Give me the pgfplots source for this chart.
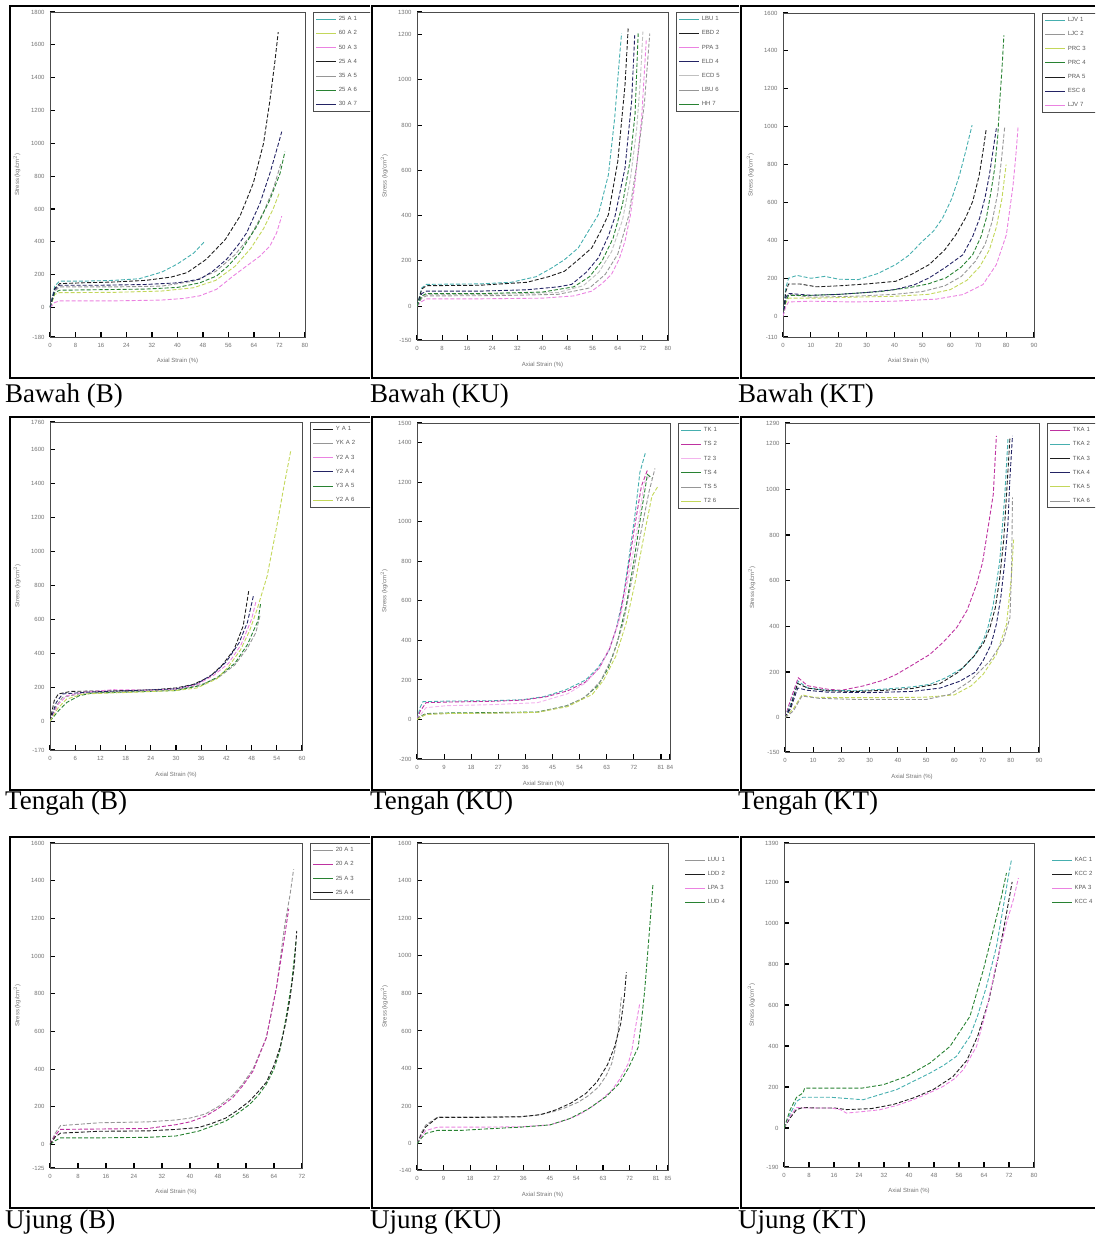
\documentclass[border=0pt]{standalone}
\usepackage{fontspec}
\setmainfont{Liberation Serif}
\setsansfont{Liberation Sans}
\usepackage{pgfplots}
\pgfplotsset{compat=1.18}

\definecolor{cBlk}{RGB}{30,30,30}
\definecolor{cMag}{RGB}{190,50,160}
\definecolor{cPink}{RGB}{235,130,225}
\definecolor{cGrn}{RGB}{40,130,50}
\definecolor{cTeal}{RGB}{70,175,175}
\definecolor{cNavy}{RGB}{35,35,100}
\definecolor{cYel}{RGB}{195,215,90}
\definecolor{cGry}{RGB}{150,150,150}

\newcommand{\tinyf}{\sffamily\fontsize{6}{6}\selectfont}

\pgfplotsset{
  pnl/.style={
    scale only axis, anchor=north west,
    axis line style={draw=black!70, line width=0.9pt},
    tick align=inside, xtick pos=bottom, ytick pos=left,
    major tick length=5pt,
    tick style={black, line width=1.1pt},
    tick label style={font=\tinyf, text=black!55},
    /pgf/number format/assume math mode=true,
    /pgf/number format/1000 sep={},
    scaled ticks=false,
    xticklabel style={yshift=-3pt},
    yticklabel style={xshift=-2pt},
    every axis x label/.style={at={(axis description cs:0.5,-0.075)}, anchor=center, font=\tinyf, text=black!55},
    every axis y label/.style={at={(axis description cs:-0.13,0.5)}, rotate=90, anchor=center, font=\tinyf, text=black!55},
    xlabel={Axial Strain (\%)}, ylabel={Stress (kg/cm$^2$)},
    legend cell align=left,
    legend style={at={(1.033,1)}, anchor=north west, draw=black!70, line width=1pt,
      font=\tinyf, text=black!65, inner sep=2pt, row sep=4.5pt,
      nodes={text width=36pt}},
    legend image code/.code={\draw[#1, solid, line width=1pt] (0pt,0pt) -- (20pt,0pt);},
    every axis plot/.append style={line width=0.9pt, dash pattern=on 4pt off 2pt},
  }
}

\begin{document}
\begin{tikzpicture}
\path[use as bounding box] (0pt,0pt) rectangle (1095pt,-1247pt);

% ---------- frames ----------
\foreach \t/\b in {6/378, 417/790, 837/1208}{
  \foreach \l/\r in {10/370, 372/739, 741/1095}{
    \draw[line width=2pt] (\r pt,-\t pt) -- (\l pt,-\t pt) -- (\l pt,-\b pt) -- (\r pt,-\b pt);
  }
}

% ---------- captions ----------
\begin{scope}[every node/.style={anchor=base west, inner sep=0pt, font=\fontsize{27}{27}\selectfont}]
\node at (5pt,-402pt) {Bawah (B)};
\node at (370pt,-402pt) {Bawah (KU)};
\node at (738pt,-402pt) {Bawah (KT)};
\node at (5pt,-809pt) {Tengah (B)};
\node at (370pt,-809pt) {Tengah (KU)};
\node at (738pt,-809pt) {Tengah (KT)};
\node at (5pt,-1228pt) {Ujung (B)};
\node at (370pt,-1228pt) {Ujung (KU)};
\node at (738pt,-1228pt) {Ujung (KT)};
\end{scope}

% ================= Bawah (B) =================
\begin{scope}
\clip (11pt,-7pt) rectangle (370pt,-377pt);
\begin{axis}[pnl, at={(50pt,-12pt)}, width=255pt, height=325pt,
  xmin=0, xmax=80, ymin=-180, ymax=1800,
  xtick={0,8,16,24,32,40,48,56,64,72,80},
  ytick={-180,0,200,400,600,800,1000,1200,1400,1600,1800}]
\addplot[cTeal] coordinates {(0,0)(1.5,130)(3,160)(10,160)(20,165)(28,175)(35,215)(40,265)(45,330)(48.6,404)};
\addlegendentry{25 A 1}
\addplot[cYel] coordinates {(0,0)(1.5,80)(3,90)(20,92)(35,100)(45,120)(52,165)(58,250)(63,360)(67,480)(70,600)(72,700)};
\addlegendentry{60 A 2}
\addplot[cPink] coordinates {(0,0)(1.5,30)(3,40)(20,40)(35,45)(42,55)(47,71)(52.3,111)(57.5,192)(61.7,253)(65.9,313)(69,374)(71.1,455)(72.7,556)};
\addlegendentry{50 A 3}
\addplot[cBlk] coordinates {(0,0)(1.5,115)(3,145)(10,150)(20,155)(30,165)(38,185)(43,212)(49,293)(55,414)(59.6,556)(63.8,758)(67,1000)(69,1262)(70.6,1505)(71.6,1677)};
\addlegendentry{25 A 4}
\addplot[cGry] coordinates {(0,0)(1.5,100)(3,125)(20,125)(35,130)(45,160)(52,220)(58,320)(63,440)(67,580)(70,720)(72.5,880)};
\addlegendentry{35 A 5}
\addplot[cGrn] coordinates {(0,0)(1.5,90)(3,105)(15,108)(30,112)(40,122)(47,150)(52.3,192)(56,255)(59.6,333)(64.9,495)(69,657)(72.2,818)(73.7,949)};
\addlegendentry{25 A 6}
\addplot[cNavy] coordinates {(0,0)(1.5,110)(3,135)(15,135)(30,140)(40,150)(47,172)(51,220)(55.4,293)(59,380)(61.7,455)(65.9,636)(69,818)(71.7,1000)(72.7,1071)};
\addlegendentry{30 A 7}
\end{axis}
\end{scope}

% ================= Bawah (KU) =================
\begin{scope}
\clip (373pt,-7pt) rectangle (739pt,-377pt);
\begin{axis}[pnl, at={(417pt,-12pt)}, width=251pt, height=328pt,
  xmin=0, xmax=80, ymin=-150, ymax=1300,
  xtick={0,8,16,24,32,40,48,56,64,72,80},
  ytick={-150,0,200,400,600,800,1000,1200,1300}]
\addplot[cTeal] coordinates {(0,0)(1.5,80)(3,96)(20,98)(30,105)(38,130)(43,169)(47,205)(51.4,257)(55,340)(57.8,404)(61,580)(63,830)(64.7,1125)(65.2,1205)};
\addlegendentry{LBU 1}
\addplot[cBlk] coordinates {(0,0)(1.5,75)(3,90)(20,92)(35,105)(42,130)(47,154)(51,200)(55.7,257)(58.5,330)(61,404)(64,640)(66.3,977)(67.3,1227)};
\addlegendentry{EBD 2}
\addplot[cPink] coordinates {(0,0)(1.5,20)(3,32)(20,32)(40,35)(50,45)(55.7,66)(59,100)(62,140)(64.5,210)(66.3,287)(68,400)(69.4,537)(71.6,830)(73.1,1183)};
\addlegendentry{PPA 3}
\addplot[cNavy] coordinates {(0,0)(1.5,55)(3,66)(20,66)(35,72)(45,85)(49.3,96)(54,150)(57.8,213)(61,310)(63,390)(66.3,610)(68.4,904)(69.4,1198)};
\addlegendentry{ELD 4}
\addplot[cGry!60] coordinates {(0,0)(1.5,40)(3,51)(25,52)(45,60)(53,90)(58,150)(62,240)(65.5,380)(68,560)(70,780)(71.2,1000)(72,1213)};
\addlegendentry{ECD 5}
\addplot[cGry] coordinates {(0,0)(1.5,35)(3,45)(25,46)(45,52)(55,80)(60,140)(64,230)(67.5,400)(70,620)(72.5,900)(74.2,1205)};
\addlegendentry{LBU 6}
\addplot[cGrn] coordinates {(0,0)(1.5,45)(3,55)(20,55)(40,62)(50,85)(55,130)(59,200)(62.5,300)(65.5,450)(68,650)(69.5,850)(70.5,1205)};
\addlegendentry{HH 7}
\end{axis}
\end{scope}

% ================= Bawah (KT) =================
\begin{scope}
\clip (742pt,-7pt) rectangle (1095pt,-377pt);
\begin{axis}[pnl, at={(783pt,-13pt)}, width=251pt, height=324pt,
  xmin=0, xmax=90, ymin=-110, ymax=1600,
  xtick={0,10,20,30,40,50,60,70,80,90},
  ytick={-110,0,200,400,600,800,1000,1200,1400,1600}]
\addplot[cTeal] coordinates {(0,0)(1,150)(2,200)(5,215)(10,200)(15,210)(20,195)(27,193)(34,225)(40.4,272)(45,320)(50,395)(54,450)(57.2,517)(60.5,620)(63.3,745)(65.5,870)(67.8,1008)};
\addlegendentry{LJV 1}
\addplot[cGry] coordinates {(0,0)(1,90)(2,115)(10,100)(25,105)(40,115)(50,130)(58,160)(64,210)(69,290)(72.5,380)(75,500)(77,650)(78.5,850)(79.5,1000)};
\addlegendentry{LJC 2}
\addplot[cYel] coordinates {(0,0)(1,70)(2,95)(12,95)(25,100)(40,105)(52,115)(60,140)(66,190)(70.5,260)(74,350)(76.5,470)(78.5,620)(80,800)};
\addlegendentry{PRC 3}
\addplot[cGrn] coordinates {(0,0)(1,80)(2,110)(10,110)(20,115)(35,130)(45,150)(52,170)(58.4,202)(64,260)(68,324)(71,420)(72.9,517)(74.5,650)(75.9,780)(77,950)(77.7,1131)(78.5,1300)(79.2,1482)};
\addlegendentry{PRC 4}
\addplot[cBlk] coordinates {(0,0)(1,130)(2,170)(6,170)(12,155)(20,160)(30,170)(40.4,184)(46,220)(52.4,272)(58,350)(62,430)(65.5,520)(68,605)(70.3,740)(71.7,868)(72.9,991)};
\addlegendentry{PRA 5}
\addplot[cNavy] coordinates {(0,0)(1,100)(2,120)(10,110)(20,115)(30,125)(40,140)(47,165)(52.4,202)(58,255)(64.5,324)(68,420)(70.5,517)(72.5,630)(74,745)(76.5,991)};
\addlegendentry{ESC 6}
\addplot[cPink] coordinates {(0,0)(1,50)(2,75)(10,79)(25,75)(40,79)(55,90)(64.5,114)(71.7,167)(76.5,272)(80.1,430)(82.5,693)(83.5,850)(84.3,1000)};
\addlegendentry{LJV 7}
\end{axis}
\end{scope}

% ================= Tengah (B) =================
\begin{scope}
\clip (11pt,-418pt) rectangle (370pt,-789pt);
\begin{axis}[pnl, at={(50pt,-422pt)}, width=252pt, height=328pt,
  xmin=0, xmax=60, ymin=-170, ymax=1760,
  xtick={0,6,12,18,24,30,36,42,48,54,60},
  ytick={-170,0,200,400,600,800,1000,1200,1400,1600,1760}]
\addplot[cBlk] coordinates {(0,0)(1,120)(2,160)(5,175)(15,178)(25,185)(30,195)(34,215)(38,260)(41,330)(43.8,420)(46,560)(47.3,764)};
\addlegendentry{Y A 1}
\addplot[cGry] coordinates {(0,0)(1.5,90)(3,140)(8,165)(20,175)(30,185)(36,215)(40,255)(44,330)(47,430)(49,520)(50,620)};
\addlegendentry{YK A 2}
\addplot[cPink] coordinates {(0,0)(2,100)(4,150)(8,170)(15,185)(25,182)(30,190)(35,215)(39,270)(42.5,340)(45.5,450)(48,600)(49,700)};
\addlegendentry{Y2 A 3}
\addplot[cNavy] coordinates {(0,0)(1.5,110)(3,160)(10,172)(20,180)(30,190)(35,220)(39,280)(42,350)(45,460)(47,580)(48.5,745)};
\addlegendentry{Y2 A 4}
\addplot[cGrn] coordinates {(0,0)(2,60)(4,110)(7,150)(10,165)(20,172)(30,180)(36,210)(40,260)(44,340)(47,450)(49.5,590)(50.2,700)};
\addlegendentry{Y3 A 5}
\addplot[cYel] coordinates {(0,0)(2,80)(4,130)(8,160)(20,170)(30,180)(35,195)(39.8,250)(42.5,320)(45.4,421)(47.5,530)(49.3,657)(51.7,853)(54,1147)(55.7,1382)(57.3,1588)};
\addlegendentry{Y2 A 6}
\end{axis}
\end{scope}

% ================= Tengah (KU) =================
\begin{scope}
\clip (373pt,-418pt) rectangle (739pt,-789pt);
\begin{axis}[pnl, at={(417pt,-423pt)}, width=253pt, height=336pt,
  xmin=0, xmax=84, ymin=-200, ymax=1500,
  xtick={0,9,18,27,36,45,54,63,72,81,84},
  ytick={-200,0,200,400,600,800,1000,1200,1400,1500}]
\addplot[cTeal] coordinates {(0,0)(1,60)(2,90)(10,93)(25,95)(35,100)(42,115)(49.4,150)(56,200)(60,260)(63.5,340)(66,450)(68.5,620)(70.5,830)(72.5,1050)(74,1250)(75.8,1348)};
\addlegendentry{TK 1}
\addplot[cMag] coordinates {(0,0)(1,40)(3,85)(10,88)(25,92)(35,98)(43,115)(50,145)(56,190)(60.5,260)(64,360)(67,500)(69.5,700)(72,950)(74.5,1180)(76.5,1262)};
\addlegendentry{TS 2}
\addplot[cPink!60] coordinates {(0,0)(1,20)(3,60)(10,70)(25,75)(40,85)(50,130)(56,185)(61,270)(65,400)(68,550)(71,780)(73.5,1000)(75.5,1200)(77.5,1237)};
\addlegendentry{T2 3}
\addplot[cGrn] coordinates {(0,0)(1,15)(3,30)(10,33)(25,35)(40,38)(49.4,68)(55,105)(60,170)(63.5,260)(66.5,390)(69.5,580)(72,800)(74.5,1050)(76.5,1240)(78,1220)};
\addlegendentry{TS 4}
\addplot[cGry] coordinates {(0,0)(1,10)(3,28)(10,30)(25,32)(40,36)(50,70)(56,115)(61,195)(65,320)(68.5,490)(71.5,720)(74.5,960)(77,1150)(79,1270)};
\addlegendentry{TS 5}
\addplot[cYel] coordinates {(0,0)(1,10)(3,25)(10,30)(25,32)(40,36)(50,65)(58.2,127)(62,200)(66,320)(69.5,490)(72.5,700)(75.5,940)(78,1130)(80,1180)};
\addlegendentry{T2 6}
\end{axis}
\end{scope}

% ================= Tengah (KT) =================
\begin{scope}
\clip (742pt,-418pt) rectangle (1095pt,-789pt);
\begin{axis}[pnl, at={(785pt,-423pt)}, width=254pt, height=329pt,
  xmin=0, xmax=90, ymin=-150, ymax=1290,
  xtick={0,10,20,30,40,50,60,70,80,90},
  ytick={-150,0,200,400,600,800,1000,1200,1290}]
\addplot[cMag] coordinates {(0,0)(2,80)(4.7,175)(8,140)(15,125)(20,120)(28,140)(35,165)(39.5,190)(45,230)(51.3,277)(56,330)(60.8,394)(64.5,470)(67.9,584)(70,680)(71.4,788)(73.8,978)(74.9,1234)};
\addlegendentry{TKA 1}
\addplot[cTeal] coordinates {(0,0)(2,60)(4.7,160)(8,130)(15,120)(25,118)(35,125)(45,135)(51.3,146)(57,175)(63.1,219)(67,270)(70.2,336)(72,400)(73.8,496)(76.1,686)(77.9,978)(79,1219)};
\addlegendentry{TKA 2}
\addplot[cBlk] coordinates {(0,0)(2,50)(4.5,150)(8,130)(15,118)(25,115)(35,120)(45,128)(55,150)(61.5,200)(67,270)(70.5,330)(72.6,394)(74.5,480)(76.1,613)(77.5,780)(78.5,978)(79.7,1226)};
\addlegendentry{TKA 3}
\addplot[cNavy] coordinates {(0,0)(2,40)(4.5,130)(8,120)(15,112)(30,110)(45,115)(55,130)(62,160)(67.5,200)(70.2,250)(73,320)(74.9,409)(76.5,530)(77.9,686)(79,850)(79.7,1051)(80.6,1234)};
\addlegendentry{TKA 4}
\addplot[cYel] coordinates {(0,0)(3,40)(6,100)(10,90)(20,88)(35,88)(50,90)(60,100)(66,140)(70.2,190)(74.9,277)(78.5,409)(80.2,613)(81,780)};
\addlegendentry{TKA 5}
\addplot[cGry] coordinates {(0,0)(3,30)(6,95)(12,85)(25,80)(36,80)(50,80)(58.4,102)(65.5,160)(72.6,248)(77.3,336)(79.7,438)(80.3,650)(80.6,964)};
\addlegendentry{TKA 6}
\end{axis}
\end{scope}

% ================= Ujung (B) =================
\begin{scope}
\clip (11pt,-838pt) rectangle (370pt,-1207pt);
\begin{axis}[pnl, at={(50pt,-843pt)}, width=252pt, height=325pt,
  xmin=0, xmax=72, ymin=-125, ymax=1600,
  xtick={0,8,16,24,32,40,48,56,64,72},
  ytick={-125,0,200,400,600,800,1000,1200,1400,1600}]
\addplot[cGry] coordinates {(0,0)(1.5,60)(3,100)(14,115)(28,120)(36,130)(40,140)(44.4,162)(48,200)(52.2,260)(55,320)(58,400)(61.8,566)(64.7,832)(67.1,1168)(68.6,1327)(69.6,1460)};
\addlegendentry{20 A 1}
\addplot[cMag] coordinates {(0,0)(1.5,50)(3,80)(14,82)(28,85)(36,105)(40,120)(44.4,150)(48,190)(52.2,248)(55,310)(58,389)(61.8,566)(64.7,832)(67,1100)(68.2,1250)};
\addlegendentry{20 A 2}
\addplot[cGrn] coordinates {(0,0)(1.5,20)(3,35)(14,35)(28,38)(36,45)(42.5,71)(46,95)(50.2,124)(54,170)(57,212)(59.5,260)(61.8,319)(64,400)(65.7,500)(67.5,680)(69,850)(70.3,1080)};
\addlegendentry{25 A 3}
\addplot[cBlk] coordinates {(0,0)(1.5,40)(3,60)(14,70)(28,72)(36,80)(42.5,90)(46,110)(50.2,140)(53.5,180)(57,230)(59.5,280)(61.8,330)(64,420)(65.7,513)(67.3,640)(68.6,779)(69.8,950)(70.5,1133)};
\addlegendentry{25 A 4}
\end{axis}
\end{scope}

% ================= Ujung (KU) =================
\begin{scope}
\clip (373pt,-838pt) rectangle (739pt,-1207pt);
\begin{axis}[pnl, at={(417pt,-843pt)}, width=251pt, height=327pt,
  xmin=0, xmax=85, ymin=-140, ymax=1600,
  xtick={0,9,18,27,36,45,54,63,72,81,85},
  ytick={-140,0,200,400,600,800,1000,1200,1400,1600},
  legend style={draw=none, at={(1.056,0.97)}}]
\addplot[cGry] coordinates {(0,0)(1.5,60)(3,100)(7,142)(20,142)(35,145)(40,150)(45.6,168)(50,190)(54.6,221)(58,255)(61.4,301)(64,360)(65.9,425)(67.2,510)(68.1,602)(69.2,779)};
\addlegendentry{LUU 1}
\addplot[cBlk] coordinates {(0,0)(1.5,50)(3,90)(7,140)(20,140)(35,143)(42,155)(47,180)(52,215)(57,265)(61,330)(64.5,420)(67,520)(69,640)(70.2,780)(70.9,912)};
\addlegendentry{LDD 2}
\addplot[cPink] coordinates {(0,0)(1.5,40)(3,70)(7,88)(20,88)(35,90)(45,100)(50.1,124)(55,155)(59.1,195)(62.5,235)(65.9,283)(68.5,340)(71.5,425)(72.8,500)(73.8,602)(75.4,743)};
\addlegendentry{LPA 3}
\addplot[cGrn] coordinates {(0,0)(1.5,30)(3,55)(7,71)(15,71)(25,80)(35,88)(45,100)(52,135)(58,185)(64,250)(68.5,320)(71.5,400)(74.9,513)(76,650)(77.1,814)(78.8,1150)(79.9,1381)};
\addlegendentry{LUD 4}
\end{axis}
\end{scope}

% ================= Ujung (KT) =================
\begin{scope}
\clip (742pt,-838pt) rectangle (1095pt,-1207pt);
\begin{axis}[pnl, at={(784pt,-843pt)}, width=250pt, height=324pt,
  xmin=0, xmax=80, ymin=-190, ymax=1390,
  xtick={0,8,16,24,32,40,48,56,64,72,80},
  ytick={-190,0,200,400,600,800,1000,1200,1390},
  legend style={draw=none, at={(1.06,0.97)}}]
\addplot[cTeal] coordinates {(0,0)(2,70)(4,130)(6,150)(15,150)(25.3,138)(30,160)(36,187)(41,225)(46.7,268)(51,305)(55.2,350)(59.5,447)(62,550)(64.8,691)(68,886)(70.2,1081)(71.8,1228)(72.8,1309)};
\addlegendentry{KAC 1}
\addplot[cBlk] coordinates {(0,0)(2,50)(4,90)(6,100)(10,98)(16,98)(20,90)(28,95)(35,115)(42,150)(48,190)(54,250)(58.5,330)(62,450)(65.5,620)(68.5,830)(71,1030)(73,1200)};
\addlegendentry{KCC 2}
\addplot[cPink] coordinates {(0,0)(2,60)(4,100)(6,98)(15,98)(18,90)(20,73)(25,80)(30.6,89)(36,110)(41.3,138)(46,168)(50.9,203)(54.5,240)(57.4,285)(61.6,398)(64.8,577)(68,805)(71.2,1000)(73.4,1114)(75,1219)};
\addlegendentry{KPA 3}
\addplot[cGrn] coordinates {(0,0)(2,90)(4,150)(6.1,171)(6.6,195)(15,195)(25,195)(31.7,211)(39.2,252)(46.7,317)(53.1,398)(59.5,545)(63.8,772)(67,967)(69.6,1130)(71.2,1244)};
\addlegendentry{KCC 4}
\end{axis}
\end{scope}

\end{tikzpicture}
\end{document}
